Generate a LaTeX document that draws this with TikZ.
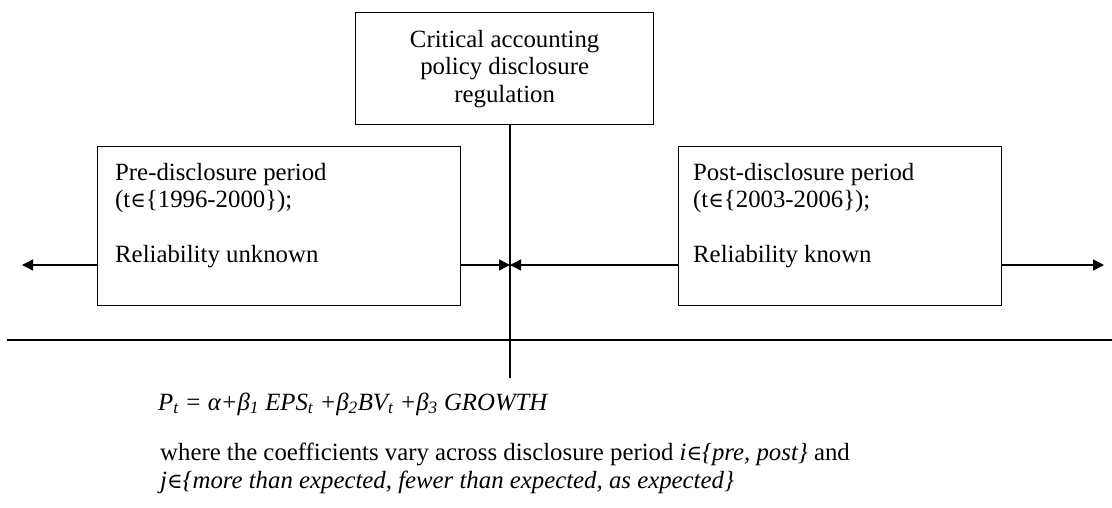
\documentclass[tikz,border=0pt]{standalone}
\usepackage{fontspec}
\setmainfont{Liberation Serif}
\newfontfamily\symfont[Scale=0.85]{DejaVu Serif}
\usetikzlibrary{arrows.meta}
\newcommand{\elemof}{{\symfont ∈}}
\begin{document}
\begin{tikzpicture}[x=1pt,y=-1pt,
  font=\fontsize{24.8}{27.5}\selectfont,
  box/.style={draw, line width=1.3pt, inner sep=0pt},
  conn/.style={line width=1.5pt},
  arr/.style={conn, -{Triangle[length=11pt,width=11pt]}},
  txt/.style={inner sep=0pt, align=left, anchor=north west},
  line/.style={inner sep=0pt, anchor=base west}]
\useasboundingbox (0,0) rectangle (1112,508);
% boxes
\node[box, anchor=north west, minimum width=298pt, minimum height=112pt, align=center] (reg) at (355,12)
  {Critical accounting\\policy disclosure\\regulation};
\node[box, anchor=north west, minimum width=363pt, minimum height=159pt] (pre) at (97,146) {};
\node[box, anchor=north west, minimum width=323pt, minimum height=159pt] (post) at (678,146) {};
\node[txt] (pretxt) at (115,163) {Pre-disclosure period\\(t\elemof\{1996-2000\});\\[27.5pt]Reliability unknown};
\node[txt] (posttxt) at (693,163) {Post-disclosure period\\(t\elemof\{2003-2006\});\\[27.5pt]Reliability known};
% coordinates
\coordinate (mid) at (510,265);
\coordinate (vbot) at (510,378);
\coordinate (lend) at (22,265);
\coordinate (rend) at (1104,265);
\coordinate (hl) at (7,340);
\coordinate (hr) at (1112,340);
% connectors
\draw[conn] (reg.south -| vbot) -- (vbot);
\draw[arr] (pre.west |- mid) -- (lend);
\draw[arr] (pre.east |- mid) -- (mid);
\draw[arr] (post.west |- mid) -- (mid);
\draw[arr] (post.east |- mid) -- (rend);
\draw[conn] (hl) -- (hr);
% equation and notes
\node[line] (eq) at (158,410) {\itshape P\textsubscript{t} = α+β\textsubscript{1} EPS\textsubscript{t} +β\textsubscript{2}BV\textsubscript{t} +β\textsubscript{3} GROWTH};
\node[line] (note1) at (160,460) {where the coefficients vary across disclosure period \textit{i\elemof\{pre, post\}} and};
\node[line] (note2) at (160,488) {\itshape j\elemof\{more than expected, fewer than expected, as expected\}};
\end{tikzpicture}
\end{document}
